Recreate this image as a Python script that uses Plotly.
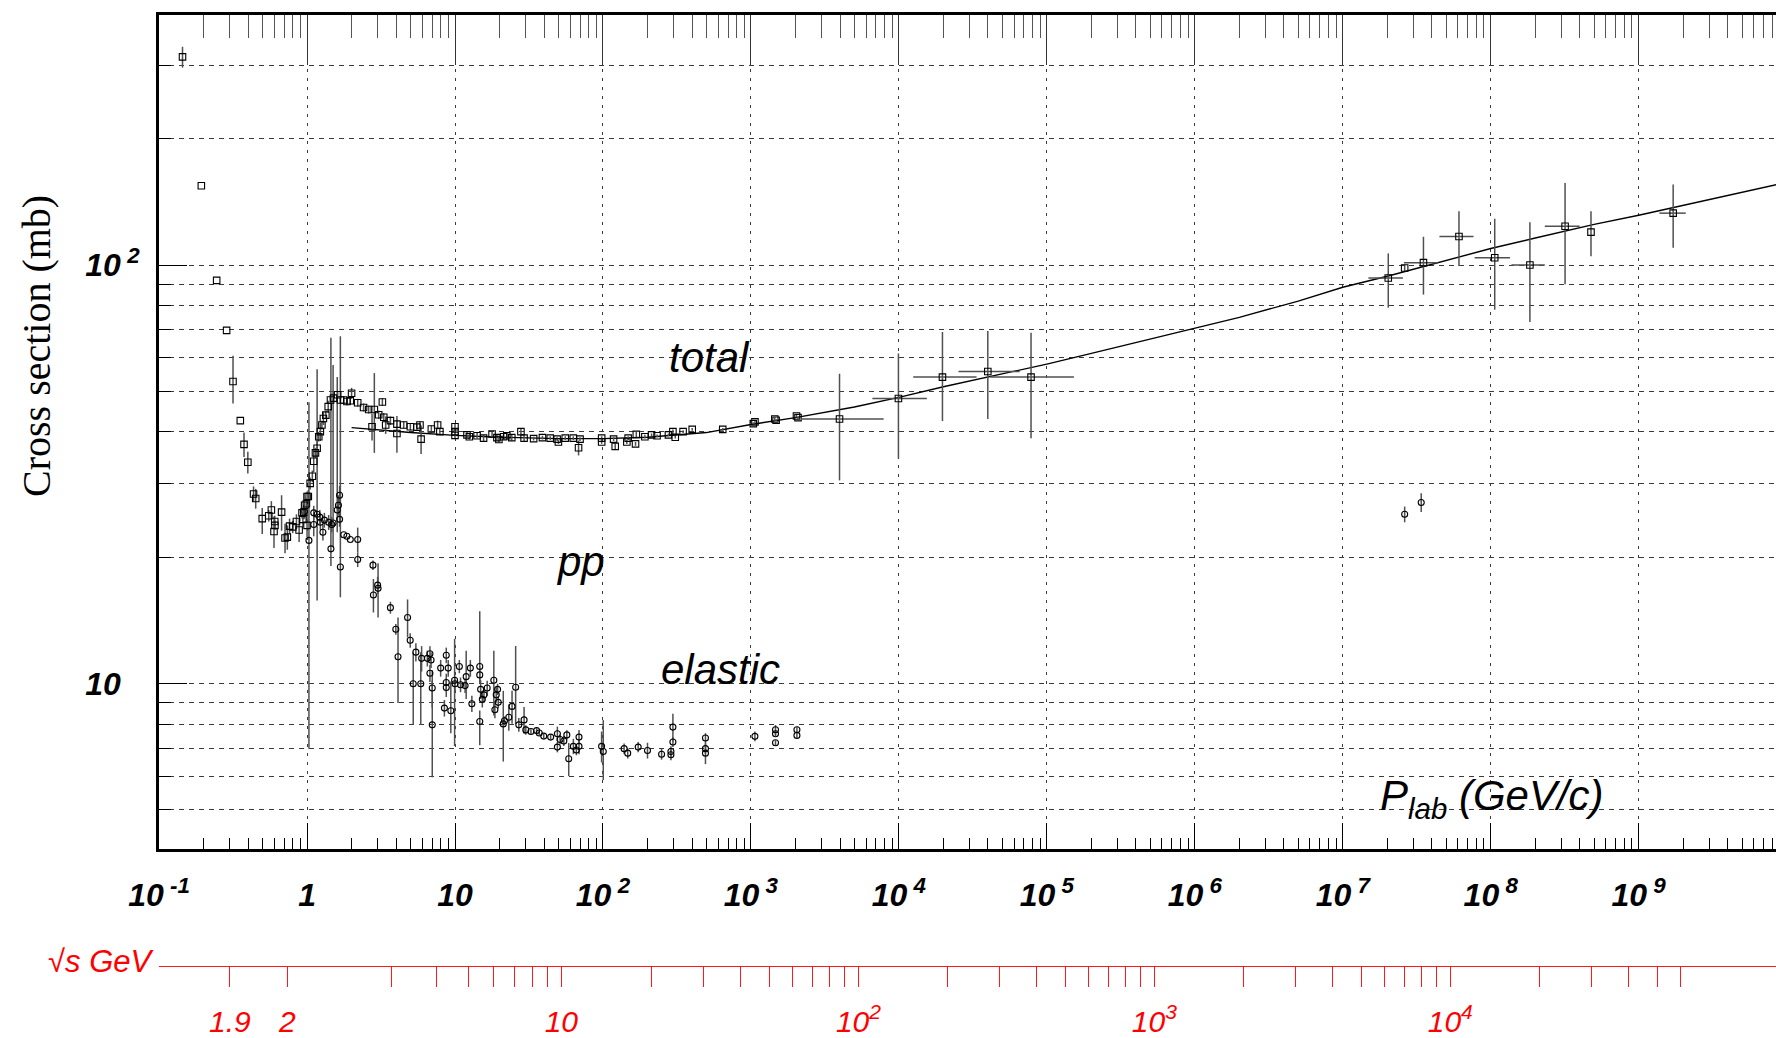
import math
import plotly.graph_objects as go

# ---------------- data ----------------
# total pp cross section (open squares): p_lab [GeV/c], sigma [mb], error up, error down
tot_p = [0.144, 0.193, 0.245, 0.286, 0.316, 0.354, 0.375, 0.398, 0.435, 0.45,
         0.498, 0.551, 0.574, 0.598, 0.605, 0.607, 0.673, 0.71, 0.736, 0.762,
         0.80, 0.848, 0.884, 0.925, 0.937, 0.95, 0.963, 0.99, 1.0, 1.0,
         1.02, 1.05, 1.086, 1.11, 1.14, 1.17, 1.2, 1.23, 1.26, 1.29,
         1.34, 1.39, 1.44, 1.51, 1.61, 1.68, 1.77, 1.86, 1.96, 2.0,
         2.2, 2.41, 2.61, 2.75, 2.85, 3.05, 3.23, 3.3, 3.4, 3.66,
         4.05, 4.05, 4.5, 4.99, 5.53, 5.8, 5.9, 6.92, 7.63, 7.9,
         10, 10, 10, 12.05, 12.5, 14.1, 15.6, 17.8, 19.2, 19.8,
         21.3, 22.4, 24.2, 27.9, 29.3, 34, 39, 44, 49, 50,
         55.6, 63, 68.4, 70, 98, 98, 118, 121, 145, 148,
         166, 168, 192, 213, 232, 277, 297, 308, 348, 401,
         645, 1038, 1065, 1450, 1480, 2032, 2080]
tot_s = [314, 154.6, 91.9, 69.8, 52.7, 42.5, 37.3, 33.8, 28.4, 27.7,
         24.8, 25.2, 26.0, 23.1, 24.4, 23.9, 25.7, 22.3, 22.4, 23.8,
         23.7, 24.4, 23.3, 25.6, 24.7, 25.7, 26.7, 26.9, 28.0, 23.9,
         28.0, 30.1, 31.3, 34.0, 35.6, 36.5, 38.9, 40.0, 41.5, 43.0,
         43.8, 45.9, 47.6, 48.1, 49.0, 47.6, 47.6, 47.2, 47.4, 49.4,
         46.9, 45.7, 45.2, 41.1, 45.2, 43.9, 47.1, 43.3, 41.5, 42.5,
         41.7, 39.6, 41.5, 41.1, 41.0, 41.5, 38.4, 40.6, 41.5, 40.0,
         41.1, 40.0, 39.2, 39.3, 38.9, 39.1, 38.6, 39.5, 38.7, 38.3,
         38.9, 39.1, 38.7, 40.0, 38.6, 38.5, 38.7, 38.6, 38.4, 37.8,
         38.6, 38.6, 36.6, 38.4, 38.6, 37.8, 38.4, 36.9, 37.8, 38.6,
         37.4, 39.4, 38.9, 39.3, 39.1, 39.3, 40.0, 38.8, 40.0, 40.5,
         40.5, 41.8, 42.2, 42.9, 42.6, 43.6, 43.2]
tot_ep = [18, 0, 0, 0, 8, 0, 2.5, 2.0, 1.2, 1.5,
          1.5, 0.8, 1.3, 2.0, 0.8, 0.6, 2.5, 1.8, 1.5, 1.0,
          0.8, 1.0, 1.5, 0.8, 1.0, 1.0, 0.8, 0.8, 0.8, 1.5,
          1.0, 1.0, 1.0, 2.0, 1.0, 1.5, 1.0, 2.0, 1.0, 1.5,
          1.0, 1.5, 1.0, 1.5, 1.0, 1.0, 1.0, 1.0, 1.0, 1.5,
          1.0, 1.0, 1.0, 3.0, 10.0, 1.0, 1.0, 1.0, 2.0, 1.0,
          1.0, 4.0, 0.8, 0.8, 0.8, 0.8, 3.0, 0.8, 1.0, 0.8,
          0.8, 0.8, 0.8, 0.6, 0.6, 0.6, 0.6, 0.6, 0.6, 0.6,
          0.6, 0.6, 0.6, 0.6, 0.6, 0.4, 0.4, 0.4, 0.4, 0.4,
          0.4, 0.4, 1.5, 0.4, 0.4, 0.4, 0.4, 0.6, 0.4, 0.4,
          0.4, 0.6, 0.4, 0.3, 0.3, 0.3, 0.5, 0.3, 0.3, 0.3,
          0.3, 0.3, 0.3, 0.4, 0.3, 0.3, 0.3]
tot_em = [18, 0, 0, 0, 6, 0, 2.5, 2.0, 1.2, 1.5,
          2.0, 0.8, 1.3, 2.0, 0.8, 0.6, 2.5, 1.8, 1.5, 1.0,
          0.8, 1.0, 1.5, 0.8, 1.0, 1.0, 0.8, 0.8, 0.8, 1.5,
          1.0, 1.0, 1.0, 2.0, 1.0, 1.5, 1.0, 2.0, 1.0, 1.5,
          1.0, 1.5, 1.0, 1.5, 1.0, 1.0, 1.0, 1.0, 1.0, 1.5,
          1.0, 1.0, 1.0, 3.0, 9.6, 1.0, 1.0, 1.0, 2.0, 1.0,
          1.0, 4.0, 0.8, 0.8, 0.8, 0.8, 3.0, 0.8, 1.0, 0.8,
          0.8, 0.8, 0.8, 0.6, 0.6, 0.6, 0.6, 0.6, 0.6, 0.6,
          0.6, 0.6, 0.6, 0.6, 0.6, 0.4, 0.4, 0.4, 0.4, 0.4,
          0.4, 0.4, 1.5, 0.4, 0.4, 0.4, 0.4, 0.6, 0.4, 0.4,
          0.4, 0.6, 0.4, 0.3, 0.3, 0.3, 0.5, 0.3, 0.3, 0.3,
          0.3, 0.3, 0.3, 0.4, 0.3, 0.3, 0.3]

# high-energy total points with momentum ranges (cosmic rays / colliders)
hi_p = [3970, 9930, 19700, 39900, 78200,
        2.03e7, 2.62e7, 3.51e7, 6.1e7, 1.064e8, 1.84e8, 3.18e8, 4.76e8, 1.71e9]
hi_s = [42.9, 48.0, 54.0, 55.7, 54.0,
        93.1, 98.4, 101.3, 117.0, 104.1, 100.0, 123.8, 119.8, 133.0]
hi_s_lo = [30.6, 34.5, 42.4, 42.9, 38.6,
           79.1, 96.5, 85.0, 99.5, 78.2, 73.1, 90.0, 105.0, 110.0]
hi_s_hi = [55.0, 61.5, 69.2, 69.6, 68.9,
           106.6, 100.3, 116.8, 134.4, 129.0, 126.5, 157.0, 134.4, 155.6]
hi_p_lo = [2183, 6620, 12500, 25300, 41400,
           1.49e7, 2.62e7, 2.59e7, 4.5e7, 7.78e7, 1.38e8, 2.32e8, 4.76e8, 1.38e9]
hi_p_hi = [7890, 15450, 33500, 65460, 152400,
           2.55e7, 2.62e7, 4.4e7, 7.65e7, 1.35e8, 2.32e8, 3.99e8, 4.76e8, 2.08e9]

# elastic pp cross section (open circles)
el_p = [0.96, 1.03, 1.11, 1.11, 1.17, 1.22, 1.23, 1.28, 1.31, 1.4,
        1.45, 1.47, 1.5, 1.6, 1.63, 1.66, 1.66, 1.68, 1.77, 1.86,
        1.96, 2.2, 2.2, 2.79, 2.81, 3.0, 3.02, 3.66, 3.98, 4.12,
        4.78, 4.98, 5.22, 5.44, 5.87, 5.95, 6.5, 6.77, 6.89, 6.77,
        7.02, 7.02, 8.0, 8.48, 8.73, 8.73, 8.73, 9.0, 9.37, 9.94,
        10.0, 10.7, 10.9, 11.7, 11.9, 12.7, 13.0, 14.7, 14.7, 14.9,
        14.7, 15.3, 15.7, 16.5, 18.3, 18.6, 19.0, 19.4, 19.6, 21.2,
        21.6, 23.1, 24.3, 25.7, 27.0, 29.3, 30.1, 32.6, 35.6, 37.1,
        39.8, 44.3, 49.2, 49.2, 51.3, 54.4, 57.0, 58.7, 63.1, 66.1,
        68.9, 68.9, 97.9, 100.5, 139, 147, 173, 200, 249, 288,
        288, 297, 297, 493, 493, 493, 1064, 1466, 1466, 1466,
        2046, 2046, 2.62e7, 3.39e7]
el_s = [25.8, 22.0, 25.6, 24.0, 25.4, 25.0, 24.3, 23.0, 24.6, 24.3,
        21.0, 24.0, 24.2, 26.0, 26.7, 28.2, 24.7, 19.0, 22.7, 22.5,
        22.1, 22.1, 19.8, 19.2, 16.3, 17.2, 16.9, 15.2, 13.5, 11.6,
        14.4, 12.7, 10.0, 11.9, 10.0, 11.5, 11.5, 11.8, 11.4, 10.6,
        9.77, 7.98, 10.9, 8.75, 11.7, 10.07, 9.8, 10.9, 8.62, 10.2,
        10.0, 11.0, 9.95, 9.9, 10.4, 10.9, 8.96, 11.0, 10.5, 9.7,
        8.13, 9.18, 9.41, 9.77, 10.2, 8.67, 9.41, 9.7, 9.03, 8.02,
        8.16, 8.32, 8.83, 9.81, 7.98, 8.2, 7.76, 7.69, 7.73, 7.63,
        7.50, 7.46, 7.6, 7.06, 7.36, 7.3, 7.55, 6.62, 7.09, 6.95,
        7.46, 7.09, 7.09, 6.89, 7.0, 6.83, 7.06, 6.93, 6.79, 6.77,
        6.89, 7.88, 7.26, 7.42, 7.0, 6.83, 7.49, 7.77, 7.6, 7.23,
        7.77, 7.53, 25.4, 27.1]
el_ep = [1, 25, 1, 1.5, 31, 1, 1, 1, 1, 1,
         46, 1, 33.5, 28, 1.5, 1.5, 1, 48.6, 0, 0,
         0, 1.5, 0.8, 0.5, 1.5, 0.8, 2.5, 0.5, 0.4, 2.8,
         1.5, 0.5, 1.9, 0.6, 1.9, 0.8, 0.5, 0.5, 0.5, 0.5,
         1, 2.2, 0.5, 0.4, 0.5, 0.5, 0.5, 0.5, 1.5, 2.6,
         0.4, 0.4, 0.4, 0.4, 1.6, 0.5, 0.4, 3.9, 0.5, 0.5,
         0.5, 0.4, 0.4, 0.4, 1.8, 0.4, 0.4, 0.3, 0.3, 1.6,
         0.2, 0.6, 0.8, 2.5, 0.3, 0.6, 0.2, 0.1, 0.1, 0.1,
         0.1, 0.1, 0.3, 0.2, 0.2, 0.2, 0.2, 0.6, 0.3, 0.2,
         0.3, 0.3, 0.6, 1.3, 0.2, 0.2, 0.2, 0.3, 0.2, 0.2,
         0.2, 0.6, 0.2, 0.2, 0.2, 0.4, 0.2, 0.2, 0.1, 0.1,
         0.1, 0.1, 1.1, 1.4]
el_em = [1, 15, 1, 1.5, 9.6, 1, 1, 1, 1, 1,
         1.9, 1, 3, 3, 1.5, 1.5, 1, 2.9, 0, 0,
         0, 1.5, 0.8, 0.5, 1.5, 0.8, 2.5, 0.5, 0.4, 2.6,
         1.5, 0.5, 2.0, 0.6, 2.0, 0.8, 0.5, 0.5, 0.5, 0.5,
         1, 2.0, 0.5, 0.4, 0.5, 0.5, 0.5, 0.5, 1.0, 3.1,
         0.4, 0.4, 0.4, 0.4, 1.2, 0.5, 0.4, 1.0, 0.5, 0.5,
         1.0, 0.4, 0.4, 0.4, 1.8, 0.4, 0.4, 0.3, 0.3, 1.5,
         0.2, 0.6, 0.8, 1.8, 0.3, 0.6, 0.2, 0.1, 0.1, 0.1,
         0.1, 0.1, 0.3, 0.2, 0.2, 0.2, 0.2, 0.6, 0.3, 0.2,
         0.3, 0.3, 0.6, 1.0, 0.2, 0.2, 0.2, 0.3, 0.2, 0.2,
         0.2, 0.6, 0.2, 0.2, 0.2, 0.4, 0.2, 0.2, 0.1, 0.1,
         0.1, 0.1, 1.1, 1.4]

# fitted total cross-section curve
fit_p = [2, 3, 5, 10, 20, 50, 100, 200, 500, 1e3, 2e3, 5e3, 1e4, 2e4, 5e4,
         1e5, 2e5, 5e5, 1e6, 2e6, 5e6, 1e7, 2e7, 5e7, 1e8, 2e8, 5e8, 1e9,
         2e9, 5e9, 8.5e9]
fit_s = [40.9, 40.4, 39.8, 39.2, 38.8, 38.5, 38.5, 38.8, 39.8, 41.6, 43.2, 45.8,
         48.3, 51.2, 55.0, 58.0, 61.5, 66.5, 70.6, 75.0, 82.0, 88.5, 94.0,
         102.5, 109.5, 116.0, 125.0, 131.5, 139.0, 149.5, 155.5]

# axis ticks
x_tick_vals = [0.1, 1, 10, 1e2, 1e3, 1e4, 1e5, 1e6, 1e7, 1e8, 1e9]
x_tick_text = ["10<sup> -1</sup>", "1", "10", "10<sup> 2</sup>", "10<sup> 3</sup>",
               "10<sup> 4</sup>", "10<sup> 5</sup>", "10<sup> 6</sup>",
               "10<sup> 7</sup>", "10<sup> 8</sup>", "10<sup> 9</sup>"]
y_tick_vals = [10, 100]
y_tick_text = ["10<span style='color:rgba(0,0,0,0)'><sup> 2</sup></span>",
               "10<sup> 2</sup>"]
sqrt_s_labelled = [1.9, 2, 10, 100, 1000, 10000]
sqrt_s_labels = ["1.9", "2", "10", "10<sup>2</sup>", "10<sup>3</sup>", "10<sup>4</sup>"]
sqrt_s_other = [3, 4, 5, 6, 7, 8, 9,
                20, 30, 40, 50, 60, 70, 80, 90,
                200, 300, 400, 500, 600, 700, 800, 900,
                2000, 3000, 4000, 5000, 6000, 7000, 8000, 9000,
                20000, 30000, 40000, 50000, 60000]

M_P = 0.938272  # proton mass (GeV), for the sqrt(s) <-> p_lab scale


def plab_from_sqrts(rs):
    s = rs * rs
    e = (s - 2 * M_P ** 2) / (2 * M_P)
    return math.sqrt(e * e - M_P ** 2)


# ---------------- layout geometry (pixels) ----------------
W, H = 1776, 1038
L, T = 159, 15
PAPER_BOTTOM = 966          # red sqrt(s) axis line
AXIS_BOTTOM = 849           # main plot frame bottom
PW = W - L
PH = PAPER_BOTTOM - T


def px(x):
    return (x - L) / PW


def py(y):
    return (PAPER_BOTTOM - y) / PH


X_RANGE = [-1.0005, 9.928]
Y_RANGE = [0.6055, 2.597]

x_minor = [m * 10.0 ** e for e in range(-1, 10) for m in range(2, 10)]
y_minor = [m * 10.0 ** e for e in range(0, 3) for m in range(2, 10)]

GRID = "#3a3a3a"
ERRC = "#505050"
RED = "#ff1a1a"
FONT = "Liberation Sans"

fig = go.Figure()

# fit line
fig.add_trace(go.Scatter(x=fit_p, y=fit_s, mode="lines",
                         line=dict(color="black", width=1.4),
                         showlegend=False, hoverinfo="skip"))

# elastic
fig.add_trace(go.Scatter(
    x=el_p, y=el_s, mode="markers", showlegend=False,
    marker=dict(symbol="circle-open", size=6, color="black", line=dict(width=1.1)),
    error_y=dict(type="data", symmetric=False, array=el_ep, arrayminus=el_em,
                 color=ERRC, thickness=1.5, width=0)))

# total
fig.add_trace(go.Scatter(
    x=tot_p, y=tot_s, mode="markers", showlegend=False,
    marker=dict(symbol="square-open", size=6.5, color="black", line=dict(width=1.1)),
    error_y=dict(type="data", symmetric=False, array=tot_ep, arrayminus=tot_em,
                 color=ERRC, thickness=1.5, width=0)))

# high energy total with horizontal bars
hi_ep = [h - s for h, s in zip(hi_s_hi, hi_s)]
hi_em = [s - l for l, s in zip(hi_s_lo, hi_s)]
hi_xp = [h - p for h, p in zip(hi_p_hi, hi_p)]
hi_xm = [p - l for l, p in zip(hi_p_lo, hi_p)]
fig.add_trace(go.Scatter(
    x=hi_p, y=hi_s, mode="markers", showlegend=False,
    marker=dict(symbol="square-open", size=6.5, color="black", line=dict(width=1.1)),
    error_y=dict(type="data", symmetric=False, array=hi_ep, arrayminus=hi_em,
                 color=ERRC, thickness=1.5, width=0),
    error_x=dict(type="data", symmetric=False, array=hi_xp, arrayminus=hi_xm,
                 color=ERRC, thickness=1.5, width=0)))

# placeholders so the extra axes are drawn
fig.add_trace(go.Scatter(x=[None], y=[None], xaxis="x2", yaxis="y",
                         showlegend=False, hoverinfo="skip"))
fig.add_trace(go.Scatter(x=[None], y=[None], xaxis="x3", yaxis="y",
                         showlegend=False, hoverinfo="skip"))

tickfont_main = dict(family=FONT, size=32, color="black", weight="bold", style="italic")

fig.update_layout(
    width=W, height=H,
    margin=dict(l=L, r=0, t=T, b=H - PAPER_BOTTOM, pad=0, autoexpand=False),
    paper_bgcolor="white", plot_bgcolor="white",
    showlegend=False,
    xaxis=dict(
        type="log", range=X_RANGE, anchor="y", side="bottom", automargin=False,
        showline=True, linewidth=3, linecolor="black", mirror=False,
        ticks="inside", ticklen=26, tickwidth=1.2, tickcolor="black",
        tickmode="array", tickvals=x_tick_vals, ticktext=x_tick_text,
        tickfont=tickfont_main, ticklabelstandoff=16,
        showgrid=True, gridcolor=GRID, gridwidth=1, griddash="3px,6px",
        minor=dict(tickmode="array", tickvals=x_minor, ticks="inside",
                   ticklen=11, tickwidth=1, tickcolor="black", showgrid=False),
        zeroline=False,
    ),
    xaxis2=dict(
        type="log", range=X_RANGE, overlaying="x", anchor="y", side="top",
        showline=True, linewidth=3, linecolor="black", automargin=False,
        ticks="inside", ticklen=50, tickwidth=1.2, tickcolor="#333",
        tickmode="array", tickvals=x_tick_vals, showticklabels=False,
        showgrid=False, zeroline=False,
        minor=dict(tickmode="array", tickvals=x_minor, ticks="inside",
                   ticklen=23, tickwidth=1.2, tickcolor="#555", showgrid=False),
    ),
    xaxis3=dict(
        type="log", range=X_RANGE, overlaying="x", anchor="free", position=0,
        side="bottom", automargin=False,
        showline=True, linewidth=1, linecolor=RED,
        ticks="outside", ticklen=20, tickwidth=1, tickcolor=RED,
        tickmode="array",
        tickvals=[plab_from_sqrts(v) for v in sqrt_s_labelled],
        ticktext=sqrt_s_labels,
        tickfont=dict(family=FONT, size=30, color="#ff0000", style="italic"),
        ticklabelstandoff=9,
        minor=dict(tickmode="array",
                   tickvals=[plab_from_sqrts(v) for v in sqrt_s_other],
                   ticks="outside", ticklen=20, tickwidth=1, tickcolor=RED,
                   showgrid=False),
        showgrid=False, zeroline=False,
    ),
    yaxis=dict(
        type="log", range=Y_RANGE, domain=[py(AXIS_BOTTOM), 1], automargin=False,
        showline=True, linewidth=3, linecolor="black", mirror=False,
        ticks="inside", ticklen=28, tickwidth=1.2, tickcolor="black",
        tickmode="array", tickvals=y_tick_vals, ticktext=y_tick_text,
        tickfont=tickfont_main, ticklabelstandoff=10,
        showgrid=True, gridcolor=GRID, gridwidth=1, griddash="5px,5px",
        minor=dict(tickmode="array", tickvals=y_minor, ticks="inside",
                   ticklen=12, tickwidth=1, tickcolor="black",
                   showgrid=True, gridcolor=GRID, gridwidth=1, griddash="5px,5px"),
        zeroline=False,
    ),
)

ann_font = dict(family=FONT, size=42, color="black", style="italic")
annotations = [
    dict(text="Cross section (mb)", x=px(37), y=py(346), textangle=-90,
         font=dict(family="Liberation Serif", size=40, color="black")),
    dict(text="total", x=px(709), y=py(357), font=ann_font),
    dict(text="pp", x=px(580), y=py(561), font=ann_font),
    dict(text="elastic", x=px(720), y=py(670), font=ann_font),
    dict(text="P<sub>lab</sub> (GeV/c)", x=px(1378), y=py(798), xanchor="left",
         font=ann_font),
    dict(text="√s GeV", x=px(156), y=py(961), xanchor="right",
         font=dict(family=FONT, size=31, color="#ff0000", style="italic")),
]
for a in annotations:
    a.setdefault("xanchor", "center")
    a.update(xref="paper", yref="paper", yanchor="middle", showarrow=False)
fig.update_layout(annotations=annotations)

fig.write_html(
    "out.html",
    config={"displayModeBar": False},
    post_script="document.body.style.margin='0px';document.body.style.overflow='hidden';",
)
